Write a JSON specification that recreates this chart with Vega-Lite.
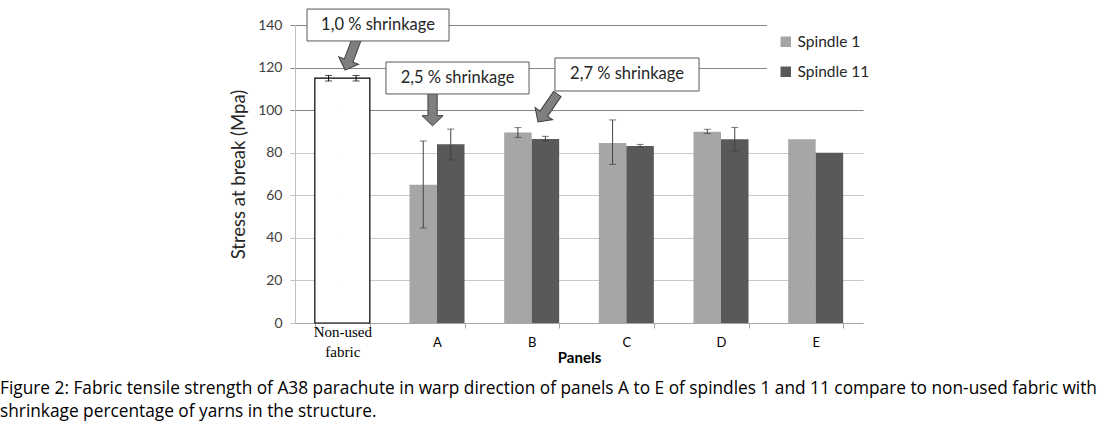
{
  "$schema": "https://vega.github.io/schema/vega-lite/v6.json",
  "width": 568,
  "height": 298,
  "autosize": {"type": "none"},
  "padding": {"left": 295, "top": 25, "right": 243, "bottom": 102},
  "background": "#ffffff",
  "config": {"view": {"stroke": null}, "font": "Lato"},
  "title": {
    "text": ["Figure 2: Fabric tensile strength of A38 parachute in warp direction of panels A to E of spindles 1 and 11 compare to non-used fabric with", "shrinkage percentage of yarns in the structure."],
    "orient": "bottom",
    "anchor": "start",
    "frame": "group",
    "dx": -295,
    "offset": 15,
    "font": "Open Sans",
    "fontSize": 17.3,
    "fontWeight": "normal",
    "lineHeight": 23,
    "color": "#000000"
  },
  "datasets": {
    "bars": [
      {"panel": "Non-used fabric", "spindle": "Spindle 1", "value": 115, "lo": 113.7, "hi": 116.3},
      {"panel": "Non-used fabric", "spindle": "Spindle 11", "value": 115, "lo": 113.7, "hi": 116.3},
      {"panel": "A", "spindle": "Spindle 1", "value": 65, "lo": 44.6, "hi": 85.5},
      {"panel": "A", "spindle": "Spindle 11", "value": 84, "lo": 76.6, "hi": 91.1},
      {"panel": "B", "spindle": "Spindle 1", "value": 89.5, "lo": 87.2, "hi": 91.8},
      {"panel": "B", "spindle": "Spindle 11", "value": 86.5, "lo": 85.4, "hi": 87.7},
      {"panel": "C", "spindle": "Spindle 1", "value": 84.6, "lo": 74.5, "hi": 95.4},
      {"panel": "C", "spindle": "Spindle 11", "value": 83.2, "lo": 82.7, "hi": 83.9},
      {"panel": "D", "spindle": "Spindle 1", "value": 89.8, "lo": 89.0, "hi": 91.0},
      {"panel": "D", "spindle": "Spindle 11", "value": 86.3, "lo": 80.7, "hi": 91.9},
      {"panel": "E", "spindle": "Spindle 1", "value": 86.3, "lo": null, "hi": null},
      {"panel": "E", "spindle": "Spindle 11", "value": 80, "lo": null, "hi": null}
    ],
    "notes": [
      {"label": "1,0 % shrinkage", "x0": 0.127, "x1": 1.627, "y0": 132.5, "y1": 147.5, "xc": 0.877, "yc": 140.0},
      {"label": "2,5 % shrinkage", "x0": 0.961, "x1": 2.472, "y0": 107.6, "y1": 122.6, "xc": 1.717, "yc": 115.1},
      {"label": "2,7 % shrinkage", "x0": 2.746, "x1": 4.268, "y0": 109.0, "y1": 124.5, "xc": 3.507, "yc": 116.8}
    ],
    "arrows": [
      {"x": 0.592, "y": 126.3, "angle": 20.5},
      {"x": 1.453, "y": 100.6, "angle": 0},
      {"x": 2.669, "y": 101.0, "angle": 34.6}
    ]
  },
  "layer": [
    {
      "data": {"name": "bars"},
      "layer": [
        {
          "mark": {"type": "bar", "strokeWidth": 0},
          "encoding": {
            "x": {
              "field": "panel", "type": "nominal",
              "scale": {"domain": ["Non-used fabric", "A", "B", "C", "D", "E"], "paddingInner": 0.419, "paddingOuter": 0.2095},
              "axis": {
                "title": "Panels",
                "titleFont": "Lato", "titleFontWeight": "bold", "titleFontSize": 15, "titleColor": "#000000",
                "titleY": 34, "titleBaseline": "middle",
                "labelAngle": 0,
                "labelExpr": "datum.value === 'Non-used fabric' ? ['Non-used', 'fabric'] : datum.value",
                "labelFont": {"condition": {"test": "datum.value === 'Non-used fabric'", "value": "Liberation Serif"}, "value": "Lato"},
                "labelFontSize": {"condition": {"test": "datum.value === 'Non-used fabric'", "value": 15}, "value": 13},
                "labelColor": "#000000",
                "labelBaseline": {"condition": {"test": "datum.value === 'Non-used fabric'", "value": "line-bottom"}, "value": "middle"},
                "labelPadding": 14,
                "labelLineHeight": 20,
                "tickBand": "extent",
                "tickColor": "#a6a6a6",
                "tickSize": 5,
                "domainColor": "#a6a6a6",
                "grid": false
              }
            },
            "xOffset": {"field": "spindle", "type": "nominal", "scale": {"domain": ["Spindle 1", "Spindle 11"], "paddingInner": 0, "paddingOuter": 0}},
            "y": {
              "field": "value", "type": "quantitative",
              "scale": {"domain": [0, 140], "nice": false},
              "axis": {
                "title": "Stress at break (Mpa)",
                "titleFont": "Lato", "titleFontSize": 18.5, "titleFontWeight": "normal", "titleColor": "#262626",
                "titlePadding": 9,
                "values": [0, 20, 40, 60, 80, 100, 120, 140],
                "labelFont": "Lato", "labelFontSize": 14, "labelColor": "#404040", "labelPadding": 8,
                "tickSize": 5,
                "tickColor": {"condition": {"test": "datum.value >= 100", "value": "#868686"}, "value": "#c0c0c0"},
                "domainColor": "#c0c0c0",
                "grid": true,
                "gridColor": {"condition": {"test": "datum.value >= 100", "value": "#868686"}, "value": "#c8c8c8"},
                "gridWidth": 1
              }
            },
            "color": {
              "field": "spindle", "type": "nominal",
              "condition": {"test": "datum.panel === 'Non-used fabric'", "value": "#ffffff"},
              "scale": {"domain": ["Spindle 1", "Spindle 11"], "range": ["#a6a6a6", "#595959"]},
              "legend": {
                "title": null,
                "orient": "none",
                "legendX": 472,
                "legendY": -2,
                "symbolType": "square",
                "symbolSize": 110,
                "symbolStrokeWidth": 0,
                "labelFont": "Lato",
                "labelFontSize": 15.5,
                "labelColor": "#262626",
                "labelOffset": 4,
                "rowPadding": 13,
                "padding": 11,
                "fillColor": "#ffffff"
              }
            }
          }
        },
        {
          "transform": [{"filter": "datum.panel === 'Non-used fabric' && datum.spindle === 'Spindle 1'"}],
          "mark": {"type": "bar", "fill": null, "fillOpacity": 0, "stroke": "#000000", "strokeWidth": 1.2},
          "encoding": {
            "x": {"field": "panel", "type": "nominal", "scale": {"domain": ["Non-used fabric", "A", "B", "C", "D", "E"], "paddingInner": 0.419, "paddingOuter": 0.2095}},
            "y": {"field": "value", "type": "quantitative", "scale": {"domain": [0, 140], "nice": false}, "title": "Stress at break (Mpa)"}
          }
        },
        {
          "transform": [{"filter": "isValid(datum.lo)"}],
          "mark": {"type": "rule", "strokeWidth": 1},
          "encoding": {
            "x": {"field": "panel", "type": "nominal", "scale": {"domain": ["Non-used fabric", "A", "B", "C", "D", "E"], "paddingInner": 0.419, "paddingOuter": 0.2095}},
            "xOffset": {"field": "spindle", "type": "nominal", "scale": {"domain": ["Spindle 1", "Spindle 11"], "paddingInner": 0, "paddingOuter": 0}},
            "y": {"field": "lo", "type": "quantitative", "scale": {"domain": [0, 140], "nice": false}, "title": "Stress at break (Mpa)"},
            "y2": {"field": "hi"},
            "color": {"condition": {"test": "datum.panel === 'Non-used fabric'", "value": "#000000"}, "value": "#404040"}
          }
        },
        {
          "transform": [{"filter": "isValid(datum.lo)"}],
          "mark": {"type": "tick", "orient": "horizontal", "size": 7, "thickness": 1},
          "encoding": {
            "x": {"field": "panel", "type": "nominal", "scale": {"domain": ["Non-used fabric", "A", "B", "C", "D", "E"], "paddingInner": 0.419, "paddingOuter": 0.2095}},
            "xOffset": {"field": "spindle", "type": "nominal", "scale": {"domain": ["Spindle 1", "Spindle 11"], "paddingInner": 0, "paddingOuter": 0}},
            "y": {"field": "lo", "type": "quantitative", "scale": {"domain": [0, 140], "nice": false}, "title": "Stress at break (Mpa)"},
            "color": {"condition": {"test": "datum.panel === 'Non-used fabric'", "value": "#000000"}, "value": "#404040"}
          }
        },
        {
          "transform": [{"filter": "isValid(datum.hi)"}],
          "mark": {"type": "tick", "orient": "horizontal", "size": 7, "thickness": 1},
          "encoding": {
            "x": {"field": "panel", "type": "nominal", "scale": {"domain": ["Non-used fabric", "A", "B", "C", "D", "E"], "paddingInner": 0.419, "paddingOuter": 0.2095}},
            "xOffset": {"field": "spindle", "type": "nominal", "scale": {"domain": ["Spindle 1", "Spindle 11"], "paddingInner": 0, "paddingOuter": 0}},
            "y": {"field": "hi", "type": "quantitative", "scale": {"domain": [0, 140], "nice": false}, "title": "Stress at break (Mpa)"},
            "color": {"condition": {"test": "datum.panel === 'Non-used fabric'", "value": "#000000"}, "value": "#404040"}
          }
        }
      ]
    },
    {
      "layer": [
        {
          "data": {"name": "arrows"},
          "mark": {
            "type": "point",
            "filled": true,
            "shape": "M-0.27,-1L0.27,-1L0.27,0.4L0.62,0.4L0,1L-0.62,0.4L-0.27,0.4Z",
            "size": 1156,
            "fill": "#7f7f7f",
            "stroke": "#3f3f3f",
            "strokeWidth": 1,
            "opacity": 1
          },
          "encoding": {
            "x": {"field": "x", "type": "quantitative", "scale": {"domain": [0, 6], "nice": false, "zero": false}, "axis": null},
            "y": {"field": "y", "type": "quantitative", "scale": {"domain": [0, 140], "nice": false}, "axis": null},
            "angle": {"field": "angle", "type": "quantitative", "scale": null}
          }
        },
        {
          "data": {"name": "notes"},
          "mark": {"type": "rect", "fill": "#ffffff", "stroke": "#595959", "strokeWidth": 1},
          "encoding": {
            "x": {"field": "x0", "type": "quantitative", "scale": {"domain": [0, 6], "nice": false, "zero": false}, "axis": null},
            "x2": {"field": "x1"},
            "y": {"field": "y0", "type": "quantitative", "scale": {"domain": [0, 140], "nice": false}, "axis": null},
            "y2": {"field": "y1"}
          }
        },
        {
          "data": {"name": "notes"},
          "mark": {"type": "text", "font": "Lato", "fontSize": 16.5, "color": "#262626", "align": "center", "baseline": "middle"},
          "encoding": {
            "x": {"field": "xc", "type": "quantitative", "scale": {"domain": [0, 6], "nice": false, "zero": false}, "axis": null},
            "y": {"field": "yc", "type": "quantitative", "scale": {"domain": [0, 140], "nice": false}, "axis": null},
            "text": {"field": "label"}
          }
        }
      ]
    }
  ],
  "resolve": {"scale": {"x": "independent", "y": "independent"}}
}
